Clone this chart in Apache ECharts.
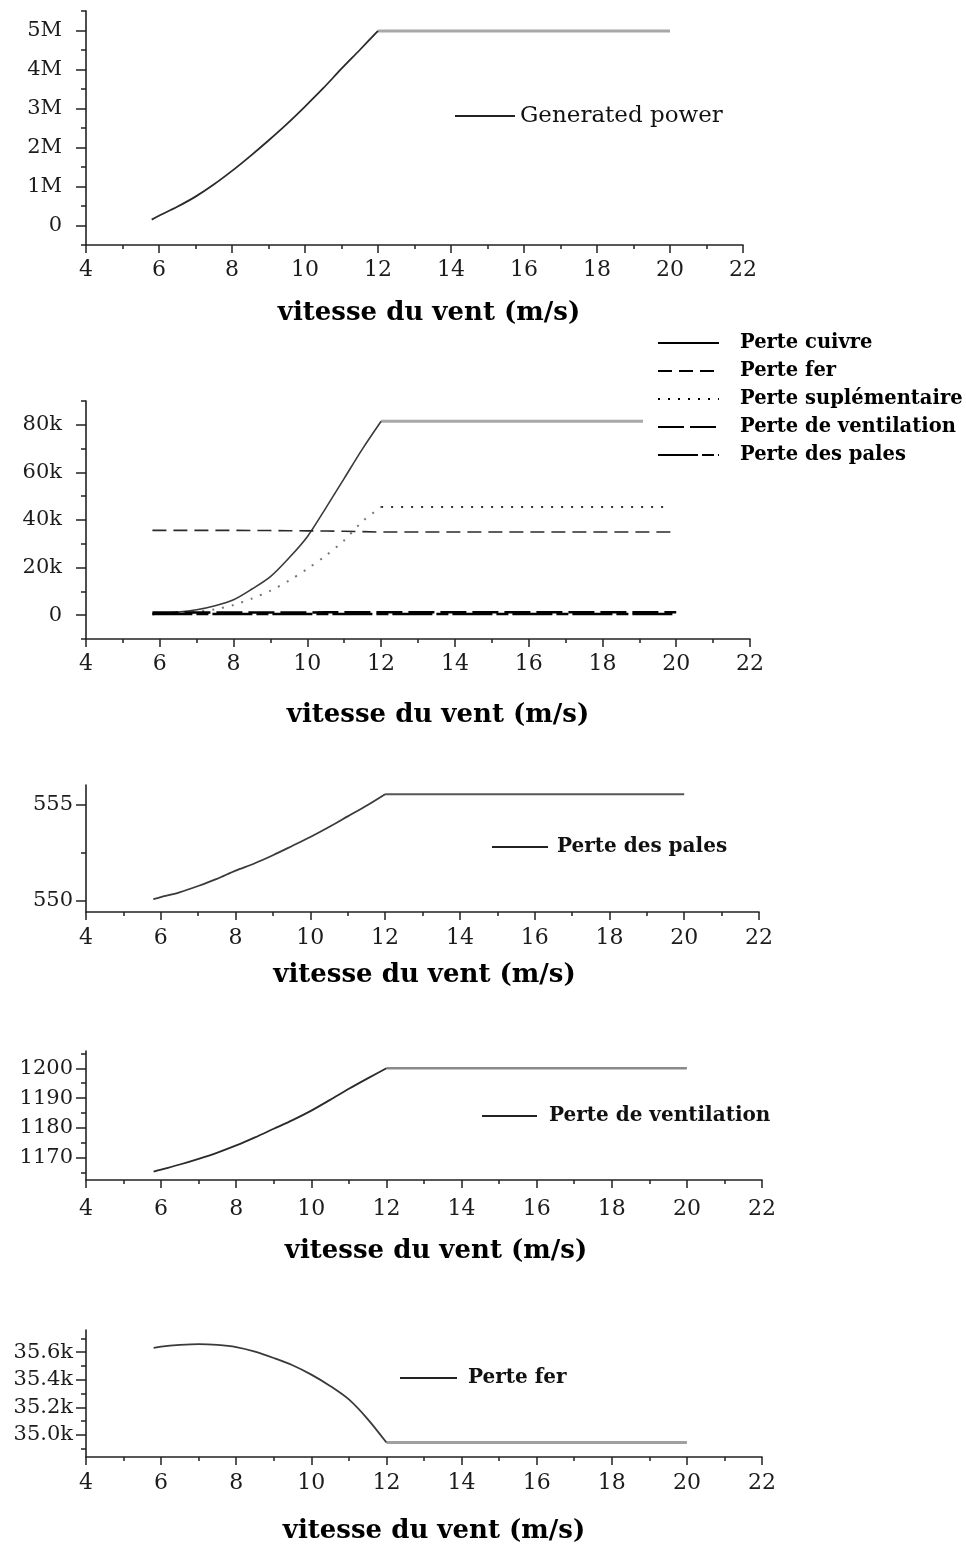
<!DOCTYPE html>
<html><head><meta charset="utf-8">
<script src="https://cdn.jsdelivr.net/npm/echarts@6/dist/echarts.min.js"></script>
<style>html,body{margin:0;padding:0;background:#fff}#c{width:966px;height:1546px}</style>
</head><body><div id="c"></div>
<script>
// ---------- data ----------
const windSpeed = [5.8, 6, 6.5, 7, 7.5, 8, 8.5, 9, 9.5, 10, 10.5, 11, 11.5, 12];
const ratedSpeed = 12;
const maxSpeed = 20;
const generatedPower = [150000, 250000, 480000, 740000, 1050000, 1400000, 1780000, 2180000, 2600000, 3050000, 3520000, 4020000, 4500000, 4990000];
const perteCuivre = [600, 800, 1300, 2300, 4000, 6500, 11000, 16200, 24000, 33000, 45000, 57500, 70000, 81500];
const perteCuivreEnd = 19.1;
const perteFer = [35630, 35640, 35652, 35658, 35652, 35636, 35603, 35557, 35505, 35437, 35355, 35257, 35115, 34945];
const perteSup = [300, 500, 800, 1400, 2500, 4300, 7000, 10300, 14500, 19500, 25000, 31500, 39500, 45500];
const perteSupEnd = 19.8;
const perteVentilation = [1165.3, 1166, 1167.7, 1169.6, 1171.7, 1174.1, 1176.8, 1179.7, 1182.6, 1185.8, 1189.4, 1193.1, 1196.6, 1200];
const pertePales = [550.1, 550.2, 550.45, 550.78, 551.15, 551.58, 551.95, 552.38, 552.85, 553.33, 553.85, 554.4, 554.95, 555.55];

const seriesNames = ['Perte cuivre', 'Perte fer', 'Perte suplémentaire', 'Perte de ventilation', 'Perte des pales'];
const powerName = 'Generated power';
const xTitle = 'vitesse du vent (m/s)';

// y-axis ticks & labels per panel
const yRange = [[-500000, 5500000], [-10000, 90000], [549.43, 556.03], [1162.5, 1205.8], [34840, 35760]];
const yMajor = [
  [0, 1000000, 2000000, 3000000, 4000000, 5000000],
  [0, 20000, 40000, 60000, 80000],
  [550, 555],
  [1170, 1180, 1190, 1200],
  [35000, 35200, 35400, 35600]
];
const yLabels = [
  ['0', '1M', '2M', '3M', '4M', '5M'],
  ['0', '20k', '40k', '60k', '80k'],
  ['550', '555'],
  ['1170', '1180', '1190', '1200'],
  ['35.0k', '35.2k', '35.4k', '35.6k']
];
const yMinor = [
  [-500000, 500000, 1500000, 2500000, 3500000, 4500000, 5500000],
  [-10000, 10000, 30000, 50000, 70000, 90000],
  [552.5],
  [1165, 1175, 1185, 1195, 1205],
  [34900, 35100, 35300, 35500, 35700]
];

// ---------- layout / style ----------
const grids = [
  {left: 86, top: 11, width: 657, height: 234},
  {left: 86, top: 401, width: 664, height: 238},
  {left: 86, top: 785, width: 673, height: 127},
  {left: 86, top: 1051, width: 676, height: 129},
  {left: 86, top: 1330, width: 676, height: 127}
];
const xLabelMargin = [14, 14, 15, 18, 15];
const yLabelMargin = [24, 24, 13, 13, 13];
const nameGaps = [55, 63, 50, 58, 61];
const namePad = [29, 40, 4, 24, 20];
const AX = '#222';
const SERIF = 'DejaVu Serif';

const xAxes = grids.map((g, i) => ({
  type: 'value', gridIndex: i, min: 4, max: 22, interval: 2,
  axisLine: {show: true, onZero: false, lineStyle: {color: AX, width: 1.6}},
  axisTick: {show: true, length: 8, lineStyle: {color: AX, width: 1.5}},
  minorTick: {show: true, splitNumber: 2, length: 4, lineStyle: {color: AX, width: 1.5}},
  splitLine: {show: false}, minorSplitLine: {show: false},
  axisLabel: {fontFamily: SERIF, fontSize: 22, color: '#1c1c1c', margin: xLabelMargin[i]},
  name: xTitle, nameLocation: 'middle', nameGap: nameGaps[i],
  nameTextStyle: {fontFamily: SERIF, fontWeight: 'bold', fontSize: 26, color: '#000', padding: [0, 0, 0, namePad[i]]}
}));

const yAxes = [];
grids.forEach((g, i) => {
  yAxes.push({
    type: 'value', gridIndex: i, position: 'left', min: yRange[i][0], max: yRange[i][1],
    axisLine: {show: true, onZero: false, lineStyle: {color: AX, width: 1.6}},
    axisTick: {show: true, length: 10, customValues: yMajor[i], lineStyle: {color: AX, width: 1.5}},
    axisLabel: {
      customValues: yMajor[i], margin: yLabelMargin[i], fontFamily: SERIF, fontSize: 21, color: '#1c1c1c',
      formatter: v => {
        let best = 0;
        yMajor[i].forEach((t, k) => { if (Math.abs(t - v) < Math.abs(yMajor[i][best] - v)) best = k; });
        return yLabels[i][best];
      }
    },
    splitLine: {show: false}
  });
  yAxes.push({
    type: 'value', gridIndex: i, position: 'left', min: yRange[i][0], max: yRange[i][1],
    axisLine: {show: false, onZero: false},
    axisTick: {show: true, length: 5, customValues: yMinor[i], lineStyle: {color: AX, width: 1.5}},
    axisLabel: {show: false}, splitLine: {show: false}
  });
});

function pts(vals) { return windSpeed.map((x, k) => [x, vals[k]]); }
function base(name, gi, style, data, z, smooth) {
  return {type: 'line', name, xAxisIndex: gi, yAxisIndex: 2 * gi, data, symbol: 'none', showSymbol: false,
    smooth: smooth, color: style.color, itemStyle: {color: style.color}, lineStyle: style, z: z, silent: true};
}
function rise(name, vals, gi, style, z) { return base(name, gi, style, pts(vals), z || 3, 0.3); }
function flat(name, vals, end, gi, style, z) {
  const last = vals[vals.length - 1];
  return base(name, gi, style, [[ratedSpeed, last], [end, last]], z || 2, false);
}
function full(name, vals, end, gi, style, z) {
  const last = vals[vals.length - 1];
  return base(name, gi, style, pts(vals).concat([[end, last]]), z || 3, false);
}

const series = [
  // panel 2 (first so its legend picks these styles)
  rise(seriesNames[0], perteCuivre, 1, {color: '#3a3a3a', width: 1.6}),
  flat(seriesNames[0], perteCuivre, perteCuivreEnd, 1, {color: '#a8a8a8', width: 3}),
  full(seriesNames[1], perteFer, maxSpeed, 1, {color: '#2a2a2a', width: 1.6, type: [14, 7]}),
  rise(seriesNames[2], perteSup, 1, {color: '#777', width: 2, type: [2, 8]}),
  flat(seriesNames[2], perteSup, perteSupEnd, 1, {color: '#333', width: 2, type: [2, 8]}),
  full(seriesNames[3], perteVentilation, maxSpeed, 1, {color: '#000', width: 2.5, type: [26, 6]}, 4),
  full(seriesNames[4], pertePales, maxSpeed, 1, {color: '#000', width: 2.5, type: [40, 4, 12, 4]}, 4),
  // panel 1
  rise(powerName, generatedPower, 0, {color: '#2a2a2a', width: 1.8}),
  flat(powerName, generatedPower, maxSpeed, 0, {color: '#a8a8a8', width: 3}),
  // panel 3
  rise(seriesNames[4], pertePales, 2, {color: '#3a3a3a', width: 1.8}),
  flat(seriesNames[4], pertePales, maxSpeed, 2, {color: '#555', width: 2.2}),
  // panel 4
  rise(seriesNames[3], perteVentilation, 3, {color: '#2a2a2a', width: 1.8}),
  flat(seriesNames[3], perteVentilation, maxSpeed, 3, {color: '#8a8a8a', width: 2.5}),
  // panel 5
  rise(seriesNames[1], perteFer, 4, {color: '#3a3a3a', width: 1.8}),
  flat(seriesNames[1], perteFer, maxSpeed, 4, {color: '#a0a0a0', width: 3})
];

function singleLegend(name, left, top, w, pad, size, bold) {
  return {
    data: [name], left, top, orient: 'horizontal', selectedMode: false,
    icon: 'rect', itemWidth: w, itemHeight: 2, itemStyle: {color: '#222', borderWidth: 0},
    textStyle: {fontFamily: SERIF, fontSize: size, fontWeight: bold ? 'bold' : 'normal', color: '#111',
      lineHeight: 26, padding: [0, 0, 0, pad]}
  };
}

const legends = [
  singleLegend(powerName, 450, 98, 60, 0, 23, false),
  {
    data: seriesNames, left: 652, top: 326, orient: 'vertical', selectedMode: false,
    itemWidth: 61, itemHeight: 12, itemGap: 4,
    itemStyle: {opacity: 0},
    lineStyle: {color: '#000'},
    textStyle: {fontFamily: SERIF, fontSize: 19.5, fontWeight: 'bold', color: '#000', lineHeight: 24, padding: [0, 0, 0, 16]}
  },
  singleLegend(seriesNames[4], 487, 829, 56, 4, 20, true),
  singleLegend(seriesNames[3], 477, 1098, 55, 7, 20, true),
  singleLegend(seriesNames[1], 395, 1360, 57, 6, 20, true)
];

const chart = echarts.init(document.getElementById('c'), null, {renderer: 'canvas'});
chart.setOption({
  backgroundColor: '#fff',
  animation: false,
  grid: grids,
  xAxis: xAxes,
  yAxis: yAxes,
  legend: legends,
  series
});
</script>
</body></html>
